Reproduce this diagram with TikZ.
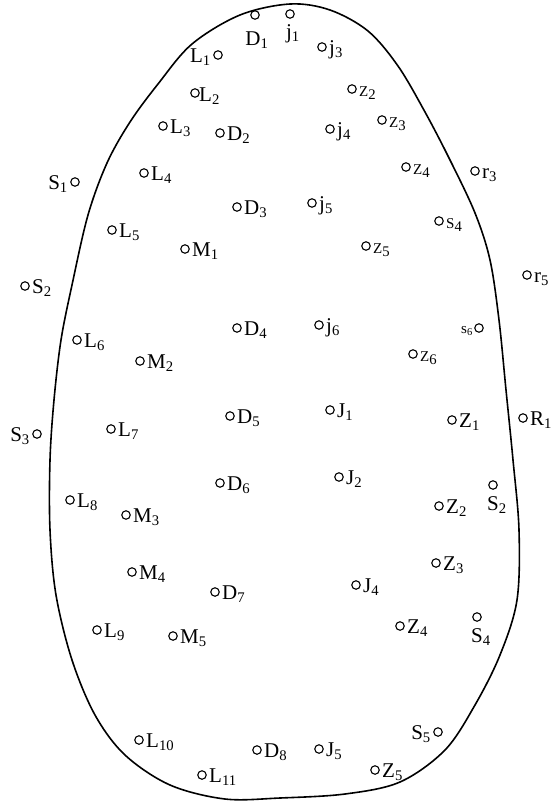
\documentclass[tikz,border=0pt]{standalone}
\usepackage{fontspec}
\setmainfont{Liberation Serif}
\usetikzlibrary{calc}
\tikzset{
  dot/.style={circle,draw,line width=1.1pt,minimum size=8.5pt,inner sep=0pt},
  lab/.style={inner sep=0pt,font=\fontsize{21}{24}\selectfont},
  smalllab/.style={inner sep=0pt,font=\fontsize{15}{17}\selectfont},
  outline/.style={line width=1.6pt,line join=round}
}
\newcommand\subx[1]{\textsubscript{#1}}
\newcommand\sml[1]{{\fontsize{15}{17}\selectfont #1}}
\newcommand\ptR[4]{\node[dot] (#1) at (#2,#3) {}; \node[lab,anchor=base west] (#1t) at ($(#1)+(7,7)$) {#4};}
\newcommand\ptL[4]{\node[dot] (#1) at (#2,#3) {}; \node[lab,anchor=base east] (#1t) at ($(#1)+(-7,7)$) {#4};}
\newcommand\ptB[5]{\node[dot] (#1) at (#2,#3) {}; \node[lab,anchor=base] (#1t) at ($(#1)+(#5)$) {#4};}
\begin{document}
\begin{tikzpicture}[x=1pt,y=-1pt]
\useasboundingbox (0,0) rectangle (557,806);
% outline
\draw[outline] plot[smooth cycle,tension=0.55] coordinates {
(290,4) (330,10) (368,31) (398,66) (425,112) (450,160) (475,213) (490,260)
(499,320) (506,390) (513,460) (519,530) (517,600) (500,655) (475,705) (445,750)
(400,782) (345,794) (280,798) (225,799) (170,785) (125,755) (95,715) (72,660)
(56,595) (50,530) (50,460) (54,400) (61,340) (72,285) (88,215) (107,163)
(130,122) (158,84) (192,44) (240,15)};
% points
\ptB{D1}{255}{15}{D\subx{1}}{2,30}
\ptB{j1}{290}{14}{j\subx{1}}{3,24}
\ptL{L1}{218}{55}{L\subx{1}}
\ptR{j3}{322}{47}{j\subx{3}}
\node[dot] (L2) at (195,93) {};
\node[lab,anchor=base west] (L2t) at ($(L2)+(4,8)$) {L\subx{2}};
\ptR{z2}{352}{89}{\sml{Z}\subx{2}}
\ptR{L3}{163}{126}{L\subx{3}}
\ptR{D2}{220}{133}{D\subx{2}}
\ptR{j4}{330}{129}{j\subx{4}}
\ptR{z3}{382}{120}{\sml{Z}\subx{3}}
\ptL{S1}{75}{182}{S\subx{1}}
\ptR{L4}{144}{173}{L\subx{4}}
\ptR{z4}{406}{167}{\sml{Z}\subx{4}}
\ptR{r3}{475}{171}{r\subx{3}}
\ptR{D3}{237}{207}{D\subx{3}}
\ptR{j5}{312}{203}{j\subx{5}}
\ptR{s4}{439}{221}{\sml{S}\subx{4}}
\ptR{L5}{112}{230}{L\subx{5}}
\ptR{M1}{185}{249}{M\subx{1}}
\ptR{z5}{366}{246}{\sml{Z}\subx{5}}
\ptR{r5}{527}{275}{r\subx{5}}
\ptR{Sa2}{25}{286}{S\subx{2}}
\ptR{L6}{77}{340}{L\subx{6}}
\ptR{D4}{237}{328}{D\subx{4}}
\ptR{j6}{319}{325}{j\subx{6}}
\node[dot] (s6) at (479,328) {};
\node[smalllab,anchor=base east] (s6t) at ($(s6)+(-6,5)$) {s\subx{6}};
\ptR{M2}{140}{361}{M\subx{2}}
\ptR{z6}{413}{354}{\sml{Z}\subx{6}}
\ptL{S3}{37}{434}{S\subx{3}}
\ptR{L7}{111}{429}{L\subx{7}}
\ptR{D5}{230}{416}{D\subx{5}}
\ptR{J1}{330}{410}{J\subx{1}}
\ptR{Z1}{452}{420}{Z\subx{1}}
\ptR{R1}{523}{418}{R\subx{1}}
\ptR{D6}{220}{483}{D\subx{6}}
\ptR{J2}{339}{477}{J\subx{2}}
\ptB{Sb2}{493}{485}{S\subx{2}}{4,25}
\ptR{Z2}{439}{506}{Z\subx{2}}
\ptR{L8}{70}{500}{L\subx{8}}
\ptR{M3}{126}{515}{M\subx{3}}
\ptR{M4}{132}{572}{M\subx{4}}
\ptR{D7}{215}{592}{D\subx{7}}
\ptR{Z3}{436}{563}{Z\subx{3}}
\ptR{J4}{356}{585}{J\subx{4}}
\ptR{L9}{97}{630}{L\subx{9}}
\ptR{M5}{173}{636}{M\subx{5}}
\ptR{Z4}{400}{626}{Z\subx{4}}
\ptB{Sb4}{477}{617}{S\subx{4}}{4,25}
\ptL{S5}{438}{732}{S\subx{5}}
\ptR{L10}{139}{740}{L\subx{10}}
\ptR{D8}{257}{750}{D\subx{8}}
\ptR{J5}{319}{749}{J\subx{5}}
\ptR{Z5}{375}{770}{Z\subx{5}}
\ptR{L11}{202}{775}{L\subx{11}}
\end{tikzpicture}
\end{document}
